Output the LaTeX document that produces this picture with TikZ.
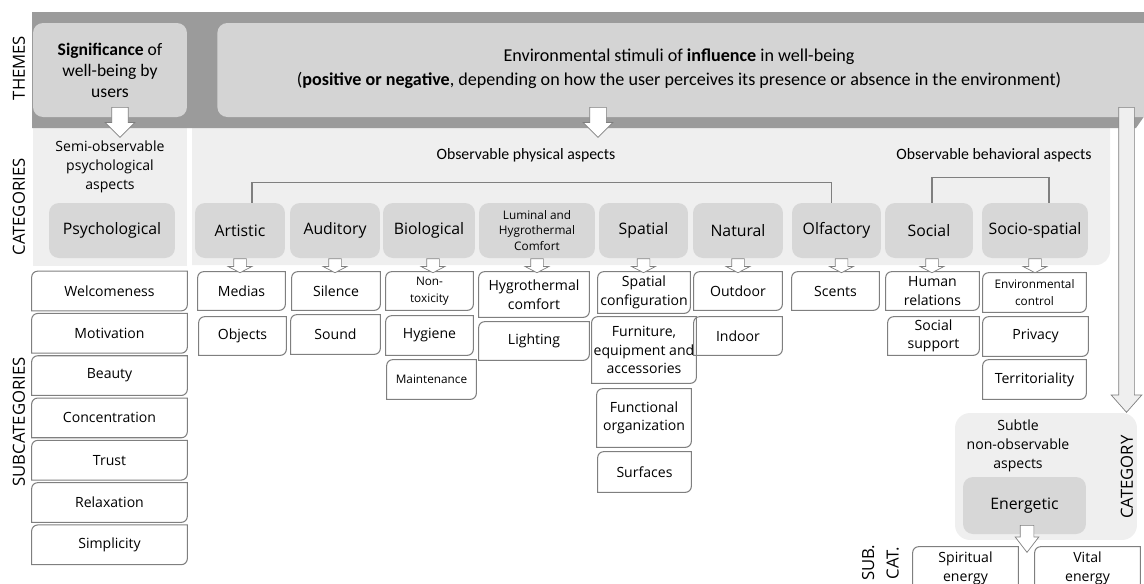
\documentclass[tikz,border=0pt]{standalone}
\usepackage{fontspec}
\setmainfont{Open Sans}
\newfontfamily\calib{Carlito}
\usepackage{tikz}
\usetikzlibrary{shapes.arrows}
\definecolor{band}{HTML}{9B9B9B}
\definecolor{themefill}{HTML}{D4D4D4}
\definecolor{panel}{HTML}{EFEFEF}
\definecolor{catfill}{HTML}{D7D7D7}
\definecolor{edge}{HTML}{7F7F7F}

\begin{document}
\begin{tikzpicture}[x=0.02cm, y=-0.02cm,
	theme/.style={rectangle, rounded corners=0.2cm, fill=themefill, align=center, font=\calib\fontsize{10}{12}\selectfont},
	cat/.style={rectangle, rounded corners=0.2cm, fill=catfill, minimum height=1.1cm, align=center, font=\fontsize{9}{11}\selectfont},
	sub/.style={rectangle, inner sep=1pt, align=center, font=\fontsize{8}{10.5}\selectfont},
	subsmall/.style={sub, font=\fontsize{6.7}{9.5}\selectfont},
	subline/.style={draw=edge, line width=0.6pt},
	side/.style={rotate=90, font=\fontsize{9.5}{11}\selectfont},
	bracket/.style={draw=edge, line width=0.6pt},
	bigarr/.style={single arrow, draw=edge, fill=white, rotate=-90, single arrow head indent=0pt, inner xsep=0pt, inner ysep=0.16cm, minimum height=0.6cm, single arrow head extend=0.13cm},
	smallarr/.style={single arrow, draw=edge, fill=white, rotate=-90, single arrow head indent=0pt, inner xsep=0pt, inner ysep=0.12cm, minimum height=0.28cm, single arrow head extend=0.11cm, single arrow tip angle=125}]
	\useasboundingbox (0,0) rectangle (1144,583);
	\clip (0,0) rectangle (1144,583);

	% category panels
	\fill[panel] (33,128) rectangle (187,266);
	\fill[panel] (192,128) -- (1110,128) -- (1110,251) arc[start angle=0, end angle=-90, radius=0.28cm] -- (192,265) -- cycle;

	% themes
	\fill[band] (32,12) -- (1150,12) -- (1150,108) -- (1136,128) -- (32,128) -- cycle;
	\node[theme, minimum width=3.08cm, minimum height=1.88cm] (signif) at (110,70) {\textbf{Significance} of\\well-being by\\users};
	\node[theme, minimum width=18.9cm, minimum height=1.88cm, anchor=west] (envbox) at (217,70) {};
	\node[font=\calib\fontsize{10.3}{13.7}\selectfont, align=center] (envtext) at (679,69) {Environmental stimuli of \textbf{influence} in well-being\\(\textbf{positive or negative}, depending on how the user perceives its presence or absence in the environment)};

	\node[side] (lthemes) at (19,68) {THEMES};
	\node[side] (lcats) at (19,207) {CATEGORIES};
	\node[side] (lsubs) at (19,422) {SUBCATEGORIES};

	% categories
	\node[font=\fontsize{8}{10.9}\selectfont, align=center] (semiobs) at (110,167) {Semi-observable\\psychological\\aspects};
	\node[font=\calib\fontsize{9}{11}\selectfont] (obsphys) at (526,155) {Observable physical aspects};
	\node[font=\calib\fontsize{9}{11}\selectfont] (obsbeh) at (994,155) {Observable behavioral aspects};

	\node[cat, minimum width=2.52cm] (psy) at (112,230.5) {Psychological};
	\node[cat, minimum width=1.8cm] (art) at (240,230.5) {Artistic};
	\node[cat, minimum width=1.8cm] (aud) at (335,230.5) {Auditory};
	\node[cat, minimum width=1.84cm] (bio) at (429,230.5) {Biological};
	\node[cat, minimum width=2.32cm, font=\fontsize{6.7}{9}\selectfont] (lum) at (537,230.5) {Luminal and\\Hygrothermal\\Comfort};
	\node[cat, minimum width=1.78cm] (spa) at (643.5,230.5) {Spatial};
	\node[cat, minimum width=1.8cm] (nat) at (738,230.5) {Natural};
	\node[cat, minimum width=1.78cm] (olf) at (836.5,230.5) {Olfactory};
	\node[cat, minimum width=1.76cm] (soc) at (929,230.5) {Social};
	\node[cat, minimum width=2.12cm] (socsp) at (1035,230.5) {Socio-spatial};

	\draw[bracket] ([xshift=0.24cm]art.north) -- ++(0,-20) -| ([xshift=-0.1cm]olf.north);
	\draw[bracket] ([xshift=0.06cm]soc.north) -- ++(0,-25) -| ([xshift=0.28cm]socsp.north);

	% subcategories
	\foreach \t [count=\i] in {Welcomeness, Motivation, Beauty, Concentration, Trust, Relaxation, Simplicity}
		\node[sub, minimum width=3.1cm, minimum height=0.78cm] (psy\i) at (109.5,{291+42.3*(\i-1)}) {\t};

	\node[sub, minimum width=1.74cm, minimum height=0.76cm] (medias) at (241.5,291) {Medias};
	\node[sub, minimum width=1.74cm, minimum height=0.76cm] (objects) at (242.5,336) {Objects};
	\node[sub, minimum width=1.76cm, minimum height=0.76cm] (silence) at (336,291) {Silence};
	\node[sub, minimum width=1.78cm, minimum height=0.78cm] (sound) at (335.5,334.5) {Sound};
	\node[subsmall, minimum width=1.74cm, minimum height=0.76cm] (nontox) at (429.5,291) {Non-\\toxicity};
	\node[sub, minimum width=1.74cm, minimum height=0.78cm] (hygiene) at (429.5,335.5) {Hygiene};
	\node[subsmall, minimum width=1.78cm, minimum height=0.78cm] (maint) at (431.5,379.5) {Maintenance};
	\node[sub, minimum width=2.2cm, minimum height=0.9cm] (hygro) at (534,294.5) {Hygrothermal\\comfort};
	\node[sub, minimum width=2.2cm, minimum height=0.76cm] (lighting) at (534,341) {Lighting};
	\node[sub, minimum width=1.84cm, minimum height=0.82cm] (spconf) at (644,292.5) {Spatial\\configuration};
	\node[sub, minimum width=1.84cm, minimum height=1.32cm] (furn) at (644,350) {Furniture,\\equipment and\\accessories};
	\node[sub, minimum width=1.88cm, minimum height=1.16cm] (funct) at (644,418) {Functional\\organization};
	\node[sub, minimum width=1.86cm, minimum height=0.8cm] (surf) at (644.5,472) {Surfaces};
	\node[sub, minimum width=1.76cm, minimum height=0.76cm] (outdoor) at (738,291) {Outdoor};
	\node[sub, minimum width=1.76cm, minimum height=0.76cm] (indoor) at (738,336) {Indoor};
	\node[sub, minimum width=1.74cm, minimum height=0.76cm] (scents) at (835.5,291) {Scents};
	\node[sub, minimum width=1.86cm, minimum height=0.76cm] (human) at (932.5,291) {Human\\relations};
	\node[sub, minimum width=1.82cm, minimum height=0.76cm] (support) at (933.5,336) {Social\\support};
	\node[subsmall, minimum width=2.06cm, minimum height=0.78cm] (envctrl) at (1034.5,292.5) {Environmental\\control};
	\node[sub, minimum width=2.1cm, minimum height=0.78cm] (privacy) at (1035.5,336.5) {Privacy};
	\node[sub, minimum width=2.06cm, minimum height=0.78cm] (territ) at (1034.5,379.5) {Territoriality};

	% subtle aspects
	\node[fill=panel, rounded corners=0.3cm, minimum width=3.64cm, minimum height=2.54cm] (subtle) at (1046,476.5) {};
	\node[font=\fontsize{8}{10.9}\selectfont, align=center] (subtletxt) at (1018,446) {Subtle\\non-observable\\aspects};
	\node[side] (lcat) at (1127,477) {CATEGORY};
	\node[cat, minimum width=2.46cm, minimum height=1.14cm] (energ) at (1024.5,505.5) {Energetic};
	\node[sub, minimum width=2.1cm, minimum height=0.86cm] (spirit) at (965.5,568.5) {Spiritual\\energy};
	\node[sub, minimum width=2.1cm, minimum height=0.86cm] (vital) at (1087.5,568.5) {Vital\\energy};
	\node[side, align=center, font=\fontsize{9.5}{14}\selectfont] (lsubcat) at (880.5,563) {SUB.\\CAT.};

	\foreach \n in {psy1,psy2,psy3,psy4,psy5,psy6,psy7,medias,objects,silence,sound,nontox,hygiene,maint,hygro,lighting,spconf,furn,funct,surf,outdoor,indoor,scents,human,support,envctrl,privacy,territ,spirit,vital}
		\draw[subline] ([yshift=-0.12cm]\n.north west) arc[start angle=180, end angle=90, radius=0.12cm] -- (\n.north east) -- ([yshift=0.12cm]\n.south east) arc[start angle=0, end angle=-90, radius=0.12cm] -- (\n.south west) -- cycle;

	% block arrows
	\node[bigarr, anchor=tail] (asig) at (120,107) {};
	\node[bigarr, anchor=tail] (aenv) at (598,107) {};
	\node[bigarr, anchor=tail, fill=panel, minimum height=6.1cm, inner ysep=0.15cm, single arrow head extend=0.15cm, single arrow tip angle=83] (along) at (1126.5,107) {};
	\node[bigarr, anchor=tail, minimum height=0.54cm, inner ysep=0.13cm, single arrow head extend=0.1cm, single arrow tip angle=75] (aenerg) at (1027,525) {};
	\node[smallarr, anchor=tail] (aart) at (art.south) {};
	\node[smallarr, anchor=tail] (aaud) at (aud.south) {};
	\node[smallarr, anchor=tail] (abio) at ([xshift=0.08cm]bio.south) {};
	\node[smallarr, anchor=tail] (alum) at (lum.south) {};
	\node[smallarr, anchor=tail] (aspa) at (spa.south) {};
	\node[smallarr, anchor=tail] (anat) at (nat.south) {};
	\node[smallarr, anchor=tail] (aolf) at ([xshift=0.1cm]olf.south) {};
	\node[smallarr, anchor=tail] (asoc) at ([xshift=0.06cm]soc.south) {};
	\node[smallarr, anchor=tail] (asocsp) at (socsp.south) {};
\end{tikzpicture}
\end{document}
